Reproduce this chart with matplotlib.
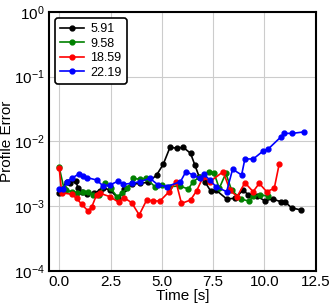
import numpy as np
import matplotlib
matplotlib.use('Agg')
import matplotlib.pyplot as plt

plt.rcParams['font.family'] = ['Liberation Sans', 'DejaVu Sans']
plt.rcParams['mathtext.fontset'] = 'custom'
plt.rcParams['mathtext.rm'] = 'Liberation Sans'
plt.rcParams['mathtext.it'] = 'Liberation Sans:italic'

# series 5.91
t1 = [0.0, 0.36, 0.55, 0.80, 0.93, 1.09, 1.37, 1.69, 1.98, 2.14, 2.47, 2.88, 3.15, 3.53,
      3.93, 4.34, 4.75, 5.07, 5.40, 5.75, 6.04, 6.40, 6.61, 6.82, 7.10, 7.38, 7.64, 8.16,
      8.56, 8.97, 9.21, 9.62, 10.02, 10.40, 10.79, 11.00, 11.33, 11.78]
e1 = [1.58e-3, 2.38e-3, 2.30e-3, 2.44e-3, 1.88e-3, 1.67e-3, 1.52e-3, 1.61e-3, 1.73e-3,
      1.92e-3, 1.77e-3, 1.32e-3, 1.82e-3, 2.17e-3, 2.25e-3, 2.33e-3, 3.03e-3, 4.43e-3,
      8.11e-3, 7.82e-3, 8.11e-3, 6.55e-3, 4.32e-3, 2.84e-3, 2.38e-3, 1.71e-3, 1.77e-3,
      1.29e-3, 1.32e-3, 1.77e-3, 1.49e-3, 1.43e-3, 1.21e-3, 1.29e-3, 1.17e-3, 1.16e-3,
      0.94e-3, 0.87e-3]

# series 9.58
t2 = [0.0, 0.23, 0.33, 0.60, 0.85, 1.17, 1.41, 1.66, 1.95, 2.23, 2.50, 2.83, 3.04, 3.32,
      3.61, 3.93, 4.23, 4.66, 5.00, 5.35, 5.88, 6.29, 6.53, 6.86, 7.31, 7.54, 7.80, 8.12,
      8.40, 8.84, 9.26, 9.45, 9.78, 10.19]
e2 = [3.98e-3, 1.88e-3, 1.77e-3, 1.67e-3, 1.58e-3, 1.63e-3, 1.67e-3, 1.49e-3, 1.49e-3,
      2.25e-3, 1.88e-3, 1.40e-3, 1.58e-3, 1.88e-3, 2.69e-3, 2.59e-3, 2.69e-3, 2.00e-3,
      2.09e-3, 2.00e-3, 2.04e-3, 1.84e-3, 2.38e-3, 2.84e-3, 3.40e-3, 3.28e-3, 1.88e-3,
      3.21e-3, 1.77e-3, 1.29e-3, 1.19e-3, 1.43e-3, 1.49e-3, 1.43e-3]

# series 18.59
t3 = [0.0, 0.12, 0.60, 0.85, 1.09, 1.41, 1.58, 1.82, 1.98, 2.47, 2.89, 3.15, 3.53, 3.90,
      4.26, 4.58, 4.91, 5.36, 5.69, 5.96, 6.40, 6.70, 7.02, 7.34, 7.99, 8.32, 8.67, 9.05,
      9.45, 9.75, 10.11, 10.48, 10.72]
e3 = [3.84e-3, 1.61e-3, 1.52e-3, 1.32e-3, 1.07e-3, 0.84e-3, 0.96e-3, 1.49e-3, 1.58e-3,
      1.40e-3, 1.15e-3, 1.35e-3, 1.13e-3, 0.73e-3, 1.24e-3, 1.20e-3, 1.20e-3, 1.67e-3,
      2.38e-3, 1.10e-3, 1.24e-3, 1.73e-3, 2.84e-3, 2.38e-3, 3.40e-3, 1.77e-3, 1.40e-3,
      2.30e-3, 1.67e-3, 2.25e-3, 1.67e-3, 1.88e-3, 4.43e-3]

# series 22.19
t4 = [0.0, 0.20, 0.36, 0.60, 0.96, 1.17, 1.37, 1.82, 2.14, 2.47, 2.88, 3.12, 3.53, 3.93,
      4.42, 4.82, 5.23, 5.91, 6.17, 6.53, 6.86, 7.05, 7.34, 7.64, 8.16, 8.45, 8.89, 9.05,
      9.46, 9.94, 10.19, 10.79, 10.95, 11.37, 11.92]
e4 = [1.82e-3, 1.82e-3, 2.38e-3, 2.69e-3, 3.13e-3, 2.92e-3, 2.75e-3, 2.53e-3, 2.05e-3,
      2.12e-3, 2.44e-3, 2.17e-3, 2.25e-3, 2.38e-3, 2.69e-3, 2.12e-3, 2.00e-3, 2.38e-3,
      3.40e-3, 3.03e-3, 2.69e-3, 3.10e-3, 2.53e-3, 2.00e-3, 1.67e-3, 3.71e-3, 3.03e-3,
      5.35e-3, 5.35e-3, 7.11e-3, 7.64e-3, 1.16e-2, 1.33e-2, 1.33e-2, 1.40e-2]

labels = ['5.91', '9.58', '18.59', '22.19']
colors = ['black', 'green', 'red', 'blue']

fig = plt.figure(figsize=(3.33, 3.06), dpi=100)
ax = fig.add_axes([0.147, 0.115, 0.801, 0.846])

for t, e, lab, c in zip([t1, t2, t3, t4], [e1, e2, e3, e4], labels, colors):
    ax.plot(t, e, '-o', color=c, label=lab, lw=1.2, ms=3.5)

ax.set_yscale('log')
ax.set_ylim(1e-4, 1)
ax.set_xlim(-0.5, 12.5)
ax.set_xticks([0, 2.5, 5, 7.5, 10, 12.5])
ax.set_xticklabels(['0.0', '2.5', '5.0', '7.5', '10.0', '12.5'])
ax.grid(True, color='#cccccc', lw=0.8)
ax.set_axisbelow(True)
ax.minorticks_off()
ax.tick_params(length=0, labelsize=11, pad=3)
for s in ax.spines.values():
    s.set_linewidth(1.5)

ax.set_xlabel('Time [s]', fontsize=11, labelpad=0)
ax.set_ylabel('Profile Error', fontsize=11, labelpad=0)

leg = ax.legend(loc='upper left', fontsize=9, fancybox=True, framealpha=1,
                edgecolor='black', borderpad=0.4, handlelength=1.9,
                handletextpad=0.5, labelspacing=0.2)
leg.get_frame().set_linewidth(1.2)

fig.savefig('out.png', dpi=100)
